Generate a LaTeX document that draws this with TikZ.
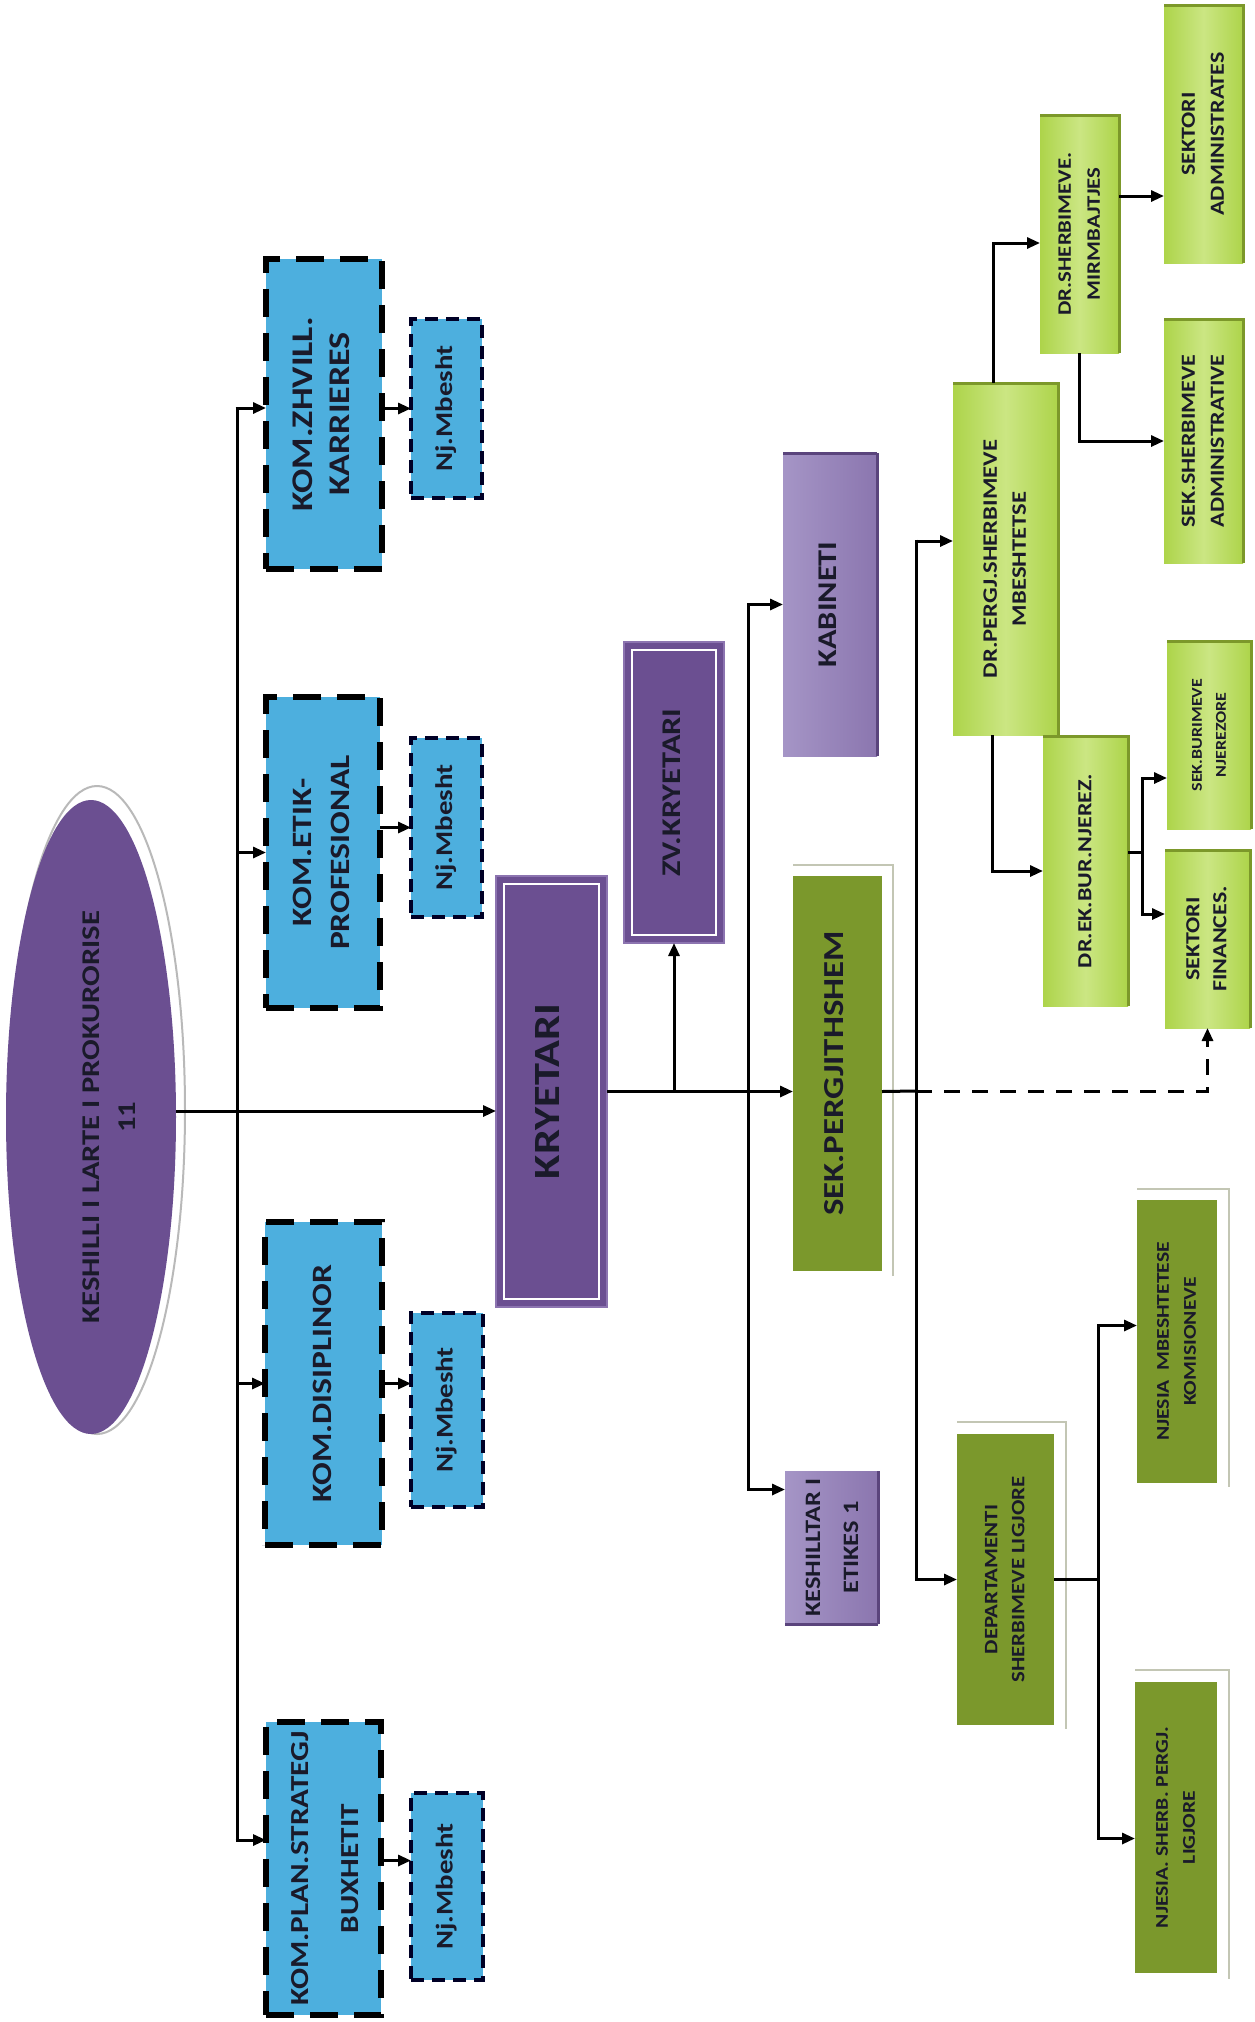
\documentclass[tikz,border=0pt]{standalone}
\usepackage{fontspec}
\setmainfont{Carlito}
\usetikzlibrary{arrows.meta,shapes.geometric}
\definecolor{kpurple}{HTML}{6B4F91}
\definecolor{kpurpleL}{HTML}{8C74B0}
\definecolor{kblue}{HTML}{4DAFDE}
\definecolor{lpA}{HTML}{A595C6}
\definecolor{lpB}{HTML}{8B76AF}
\definecolor{lpD}{HTML}{5A447C}
\definecolor{olive}{HTML}{7B982C}
\definecolor{lgA}{HTML}{ADD44A}
\definecolor{lgB}{HTML}{CBE683}
\definecolor{lgD}{HTML}{7C982A}
\definecolor{txt}{HTML}{1A1A2A}
\definecolor{frameg}{HTML}{C3C6B4}
\newcommand{\rtx}[3]{\rotatebox{90}{\scalebox{1.2}[1]{\fontsize{#1}{#2}\selectfont\bfseries\begin{tabular}{@{}c@{}}#3\end{tabular}}}}
\tikzset{
 base/.style={anchor=north west, inner sep=0pt, outer sep=0pt, text=txt},
 kom/.style={base, fill=kblue, draw=black, line width=6pt, dash pattern=on 28pt off 16pt},
 njb/.style={base, fill=kblue, draw=black!85!blue, line width=3.5pt, dash pattern=on 13pt off 8pt},
 krb/.style={base, fill=kpurple, draw=kpurpleL, line width=1.5pt},
 lpb/.style={base, left color=lpA, right color=lpB},
 olb/.style={base, fill=olive},
 lgb/.style={base, left color=lgA, right color=lgA, middle color=lgB},
 conn/.style={line width=3pt, draw=black},
 arr/.style={conn, -{Triangle[length=13pt,width=11pt]}},
 frm/.style={draw=frameg, line width=2.5pt},
 edge3d/.style={line width=3pt},
}
\begin{document}
\begin{tikzpicture}[x=1pt,y=-1pt]
\useasboundingbox (0,0) rectangle (1255,2022);
\fill[white] (0,0) rectangle (1255,2022);

% ---------- top ellipse ----------
\draw[gray!55, line width=2pt] (97,1110) ellipse [x radius=88pt, y radius=324pt];
\node[ellipse, fill=kpurple, minimum width=170pt, minimum height=634pt, inner sep=0pt, text=txt] (ell) at (91,1117)
  {\hspace*{38pt}\rtx{25.5}{36}{KESHILLI I LARTE I PROKURORISE\\11}};

% ---------- committees ----------
\node[kom, minimum width=116pt, minimum height=310pt] (zhv) at (266,259) {\rtx{30}{37}{KOM.ZHVILL.\\KARRIERES}};
\node[njb, minimum width=71pt, minimum height=179pt] (nj1) at (411,319) {\rtx{24}{28}{Nj.Mbesht}};
\node[kom, minimum width=114pt, minimum height=311pt] (etik) at (266,697) {\rtx{28}{38}{KOM.ETIK-\\PROFESIONAL}};
\node[njb, minimum width=71pt, minimum height=179pt] (nj2) at (411,738) {\rtx{24}{28}{Nj.Mbesht}};
\node[kom, minimum width=117pt, minimum height=323pt] (disip) at (265,1222) {\rtx{28}{38}{KOM.DISIPLINOR}};
\node[njb, minimum width=72pt, minimum height=194pt] (nj3) at (411,1313) {\rtx{24}{28}{Nj.Mbesht}};
\node[kom, minimum width=115pt, minimum height=293pt] (plan) at (266,1722) {\rtx{26}{50}{KOM.PLAN.STRATEGJ\\BUXHETIT}};
\node[njb, minimum width=72pt, minimum height=187pt] (nj4) at (411,1793) {\rtx{24}{28}{Nj.Mbesht}};

% ---------- presidency ----------
\node[krb, minimum width=111pt, minimum height=431pt] (kry) at (496,876) {\rtx{37}{40}{KRYETARI}};
\draw[white, line width=2.5pt] ([shift={(8,8)}]kry.north west) rectangle ([shift={(-8,-8)}]kry.south east);
\node[krb, minimum width=100pt, minimum height=301pt] (zv) at (624,642) {\rtx{27}{30}{ZV.KRYETARI}};
\draw[white, line width=2.5pt] ([shift={(8,8)}]zv.north west) rectangle ([shift={(-8,-8)}]zv.south east);

\node[lpb, minimum width=94pt, minimum height=303pt] (kab) at (783,453) {\rtx{27}{30}{KABINETI}};
\draw[lpD, edge3d] (kab.north east) -- (kab.south east);
\draw[lpD, edge3d] (kab.north west) -- (kab.north east);
\node[lpb, minimum width=93pt, minimum height=153pt] (kesh) at (785,1471) {\rtx{22}{38}{KESHILLTAR I\\ETIKES 1}};
\draw[lpD, edge3d] (kesh.north east) -- (kesh.south east);
\draw[lpD, edge3d] (kesh.south west) -- (kesh.south east);

% ---------- secretariat ----------
\node[olb, minimum width=89pt, minimum height=395pt] (sek) at (793,876) {\rtx{29}{32}{SEK.PERGJITHSHEM}};
\draw[frm] ([shift={(0,-11)}]sek.north west) -| ([shift={(11,5)}]sek.south east);

% ---------- support services ----------
\node[lgb, minimum width=105pt, minimum height=352pt] (pergj) at (953,383) {\rtx{20.5}{29}{DR.PERGJ.SHERBIMEVE\\MBESHTETSE}};
\node[lgb, minimum width=79pt, minimum height=238pt] (drsh) at (1040,115) {\rtx{19}{29}{DR.SHERBIMEVE.\\MIRMBAJTJES}};
\node[lgb, minimum width=79pt, minimum height=258pt] (sadm) at (1164,5) {\rtx{20}{29}{SEKTORI\\ADMINISTRATES}};
\node[lgb, minimum width=79pt, minimum height=244pt] (ssadm) at (1164,319) {\rtx{20}{29}{SEK.SHERBIMEVE\\ADMINISTRATIVE}};
\node[lgb, minimum width=85pt, minimum height=270pt] (drek) at (1043,736) {\rtx{20}{29}{DR.EK.BUR.NJEREZ.}};
\node[lgb, minimum width=84pt, minimum height=188pt] (bur) at (1167,641) {\rtx{15}{24}{SEK.BURIMEVE\\NJEREZORE}};
\node[lgb, minimum width=85pt, minimum height=178pt] (fin) at (1165,850) {\rtx{20}{27}{SEKTORI\\FINANCES.}};
\foreach \n in {pergj,drsh,sadm,ssadm,drek,bur,fin}{
  \draw[lgD, edge3d] (\n.north west) -- (\n.north east) -- (\n.south east);
}

% ---------- legal services ----------
\node[olb, minimum width=97pt, minimum height=291pt] (dep) at (957,1434) {\rtx{19}{27}{DEPARTAMENTI\\SHERBIMEVE LIGJORE}};
\draw[frm] ([shift={(0,-12)}]dep.north west) -| ([shift={(12,4)}]dep.south east);
\node[olb, minimum width=80pt, minimum height=283pt] (mbes) at (1137,1200) {\rtx{18}{27}{NJESIA\ \ MBESHTETESE\\KOMISIONEVE}};
\draw[frm] ([shift={(0,-11)}]mbes.north west) -| ([shift={(12,4)}]mbes.south east);
\node[olb, minimum width=82pt, minimum height=291pt] (sherb) at (1135,1682) {\rtx{18}{27}{NJESIA. SHERB. PERGJ.\\LIGJORE}};
\draw[frm] ([shift={(0,-12)}]sherb.north west) -| ([shift={(12,6)}]sherb.south east);

% ---------- connectors ----------
\coordinate (e0) at ([yshift=6pt]ell.east);
\draw[arr] (e0) -- (kry.west |- e0);
\coordinate (bT) at (237,408);
\coordinate (bB) at (237,1840);
\draw[conn] (bT) -- (bB);
\draw[arr] ([xshift=-1.5pt]bT) -- (zhv.west |- bT);
\draw[arr] (bT |- etik.west) -- (etik.west);
\draw[arr] (bT |- disip.west) -- (disip.west);
\draw[arr] ([xshift=-1.5pt]bB) -- (plan.west |- bB);

\draw[arr] (zhv.east |- nj1.west) -- (nj1.west);
\draw[arr] (etik.east |- nj2.west) -- (nj2.west);
\draw[arr] (disip.east) -- (nj3.west |- disip.east);
\coordinate (p4) at ([yshift=8pt]plan.east);
\draw[arr] (p4) -- (p4 -| nj4.west);

\draw[arr] (kry.east) -- (sek.west |- kry.east);
\draw[arr] (zv.south |- kry.east) -- (zv.south);

\coordinate (b2) at (748,1091);
\coordinate (kk) at ([yshift=58pt]kesh.west);
\draw[conn] ([yshift=1.5pt]b2 |- kab.west) -- ([yshift=-1.5pt]b2 |- kk);
\draw[arr] (b2 |- kab.west) -- (kab.west);
\draw[arr] (b2 |- kk) -- (kk);

\coordinate (b3) at (916,1091);
\coordinate (pp) at ([yshift=18pt]pergj.west);
\draw[conn] ([yshift=1.5pt]b3 |- pp) -- ([yshift=-1.5pt]b3 |- dep.west);
\draw[arr] (b3 |- pp) -- (pp);
\draw[arr] (b3 |- dep.west) -- (dep.west);
\draw[conn] (sek.east |- kry.east) -- (b3);
\draw[arr, dash pattern=on 16pt off 12pt] (b3) -- (fin.south |- b3) -- (fin.south);

\draw[arr] ([xshift=-12pt]pergj.north) |- ([yshift=-9pt]drsh.west);
\draw[arr] ([xshift=-13pt]pergj.south) |- (drek.west);
\coordinate (d1) at ([yshift=38pt]drsh.east);
\draw[arr] (d1) -- (d1 -| sadm.west);
\draw[arr] (drsh.south) |- (ssadm.west);

\coordinate (j1) at ([shift={(14,-19)}]drek.east);
\draw[conn] (drek.east |- j1) -- (j1);
\draw[arr] (j1) |- ([yshift=-43pt]bur.west);
\draw[arr] (j1) |- ([yshift=25pt]fin.west);

\coordinate (j2) at ([xshift=44pt]dep.east);
\draw[conn] (dep.east) -- (j2);
\draw[arr] (j2) |- ([yshift=16pt]mbes.west);
\draw[arr] (j2) |- ([yshift=-11pt]sherb.west);
\end{tikzpicture}
\end{document}
